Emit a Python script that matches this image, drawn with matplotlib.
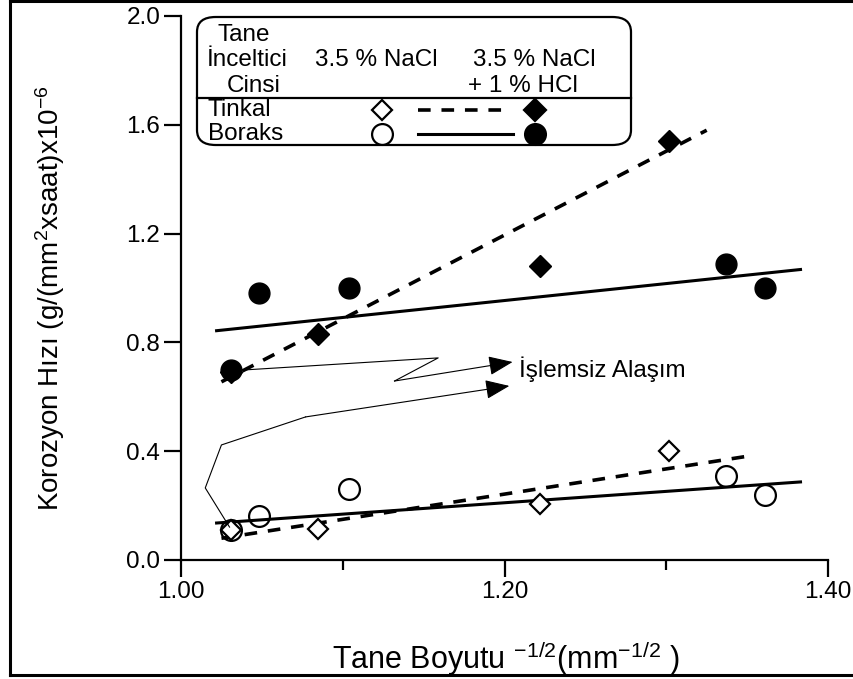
"""Korozyon hizi - tane boyutu grafigi"""
import matplotlib
matplotlib.use('Agg')
import matplotlib.pyplot as plt
from matplotlib.lines import Line2D
from matplotlib.patches import FancyBboxPatch

plt.rcParams['font.family'] = ['Liberation Sans', 'DejaVu Sans']
plt.rcParams['mathtext.fontset'] = 'custom'
plt.rcParams['mathtext.rm'] = 'Liberation Sans'
plt.rcParams['mathtext.it'] = 'Liberation Sans:italic'
plt.rcParams['mathtext.default'] = 'rm'

# measured points
x_tinkal = [1.031, 1.085, 1.222, 1.302]
tinkal_nacl = [0.11, 0.115, 0.205, 0.40]
tinkal_hcl = [0.69, 0.83, 1.08, 1.54]
x_boraks = [1.031, 1.048, 1.104, 1.337, 1.361]
boraks_nacl = [0.11, 0.16, 0.26, 0.31, 0.24]
boraks_hcl = [0.70, 0.98, 1.00, 1.09, 1.00]

# fitted lines (end points)
fit_tinkal_nacl_x = [1.025, 1.354]
fit_tinkal_nacl_y = [0.08, 0.385]
fit_tinkal_hcl_x = [1.025, 1.325]
fit_tinkal_hcl_y = [0.655, 1.58]
fit_boraks_nacl_x = [1.022, 1.383]
fit_boraks_nacl_y = [0.136, 0.287]
fit_boraks_hcl_x = [1.022, 1.383]
fit_boraks_hcl_y = [0.843, 1.068]

# "untreated alloy" arrows
arrow1_x = [1.040, 1.159, 1.132, 1.205]
arrow1_y = [0.699, 0.743, 0.658, 0.728]
arrow2_x = [1.030, 1.015, 1.025, 1.077, 1.203]
arrow2_y = [0.121, 0.265, 0.423, 0.526, 0.640]

y_ticks = [0.0, 0.4, 0.8, 1.2, 1.6, 2.0]
x_ticks = [1.00, 1.20, 1.40]

W, H = 854, 679
FS = 17.5


def px(x, y):
    """pixel position -> figure fraction"""
    return x / W, 1 - y / H


fig = plt.figure(figsize=(W / 100, H / 100), dpi=100)
ax = fig.add_axes([181 / W, 1 - 560 / H, (828 - 181) / W, (560 - 16) / H])

dash = (0, (3.5, 3))
ax.plot(fit_tinkal_nacl_x, fit_tinkal_nacl_y, color='black', lw=2.6, ls=dash)
ax.plot(fit_tinkal_hcl_x, fit_tinkal_hcl_y, color='black', lw=2.6, ls=dash)
ax.plot(fit_boraks_nacl_x, fit_boraks_nacl_y, color='black', lw=2.2)
ax.plot(fit_boraks_hcl_x, fit_boraks_hcl_y, color='black', lw=2.2)

ax.plot(x_tinkal, tinkal_nacl, 'D', ms=10.5, mfc='white', mec='black', mew=1.6, ls='none')
ax.plot(x_tinkal, tinkal_hcl, 'D', ms=11, mfc='black', mec='black', ls='none')
ax.plot(x_boraks, boraks_nacl, 'o', ms=15, mfc='none', mec='black', mew=1.6, ls='none')
ax.plot(x_boraks, boraks_hcl, 'o', ms=15, mfc='black', mec='black', ls='none')

for xs, ys in ((arrow1_x, arrow1_y), (arrow2_x, arrow2_y)):
    ax.plot(xs[:-1], ys[:-1], color='black', lw=0.8)
    ax.annotate('', xy=(xs[-1], ys[-1]), xytext=(xs[-2], ys[-2]),
                arrowprops=dict(arrowstyle='-|>,head_length=0.75,head_width=0.3',
                                mutation_scale=20, color='black', lw=0.8,
                                shrinkA=0, shrinkB=0))
ax.text(1.209, 0.70, 'İşlemsiz Alaşım', fontsize=FS, va='center', ha='left')

ax.set_xlim(1.0, 1.4)
ax.set_ylim(0.0, 2.0)
ax.set_xticks(x_ticks)
ax.set_xticklabels([f'{v:.2f}' for v in x_ticks])
ax.set_xticks([1.1, 1.3], minor=True)
ax.set_yticks(y_ticks)
ax.set_yticklabels([f'{v:.1f}' for v in y_ticks])
ax.tick_params(which='major', length=12, width=1.6, labelsize=FS, pad=3)
ax.tick_params(which='minor', length=7, width=1.6)
for side in ('top', 'right'):
    ax.spines[side].set_visible(False)
for side in ('left', 'bottom'):
    ax.spines[side].set_linewidth(1.6)

# axis titles
fig.text(*px(506, 669), 'Tane Boyutu $^{-1/2}$(mm$^{-1/2}$ )', fontsize=22,
         ha='center', va='baseline')
fig.text(*px(50, 298), 'Korozyon Hızı (g/(mm$^2$xsaat)x10$^{-6}$', fontsize=20,
         ha='center', va='center', rotation=90)

# legend box
x0, y0 = px(197, 145)
x1, y1 = px(631, 17)
fig.patches.append(FancyBboxPatch((x0, y0), x1 - x0, y1 - y0,
                                  boxstyle='round,pad=0,rounding_size=0.022',
                                  transform=fig.transFigure, fc='white',
                                  ec='black', lw=1.6, zorder=5))
fig.lines.append(Line2D(*zip(px(197, 98), px(631, 98)), transform=fig.transFigure,
                        color='black', lw=1.6, zorder=6))
for txt, x, y in (('Tane', 218, 35), ('İnceltici', 207, 60),
                  ('3.5 % NaCl', 315, 60), ('3.5 % NaCl', 473, 60),
                  ('Cinsi', 227, 86), ('+ 1 % HCl', 468, 86),
                  ('Tinkal', 208, 110), ('Boraks', 208, 134)):
    fig.text(*px(x, y), txt, fontsize=FS, va='center', ha='left', zorder=7)
fig.lines.append(Line2D(*zip(px(418, 110), px(503, 110)), transform=fig.transFigure,
                        color='black', lw=2.6, ls=dash, zorder=7))
fig.lines.append(Line2D(*zip(px(418, 134), px(513, 134)), transform=fig.transFigure,
                        color='black', lw=2.2, zorder=7))
for (x, y), mk, fc, ms in (((382, 110), 'D', 'white', 10.5), ((535, 110), 'D', 'black', 11),
                           ((382, 134), 'o', 'white', 15), ((535, 134), 'o', 'black', 15)):
    fig.lines.append(Line2D([px(x, y)[0]], [px(x, y)[1]], transform=fig.transFigure,
                            marker=mk, ms=ms, mfc=fc, mec='black', mew=1.6, zorder=7))

# outer frame
for a, b in (((10, 1), (854, 1)), ((10, 1), (10, 675)), ((10, 675), (854, 675))):
    fig.lines.append(Line2D(*zip(px(*a), px(*b)), transform=fig.transFigure,
                            color='black', lw=2.2))

fig.savefig('out.png', dpi=100)
